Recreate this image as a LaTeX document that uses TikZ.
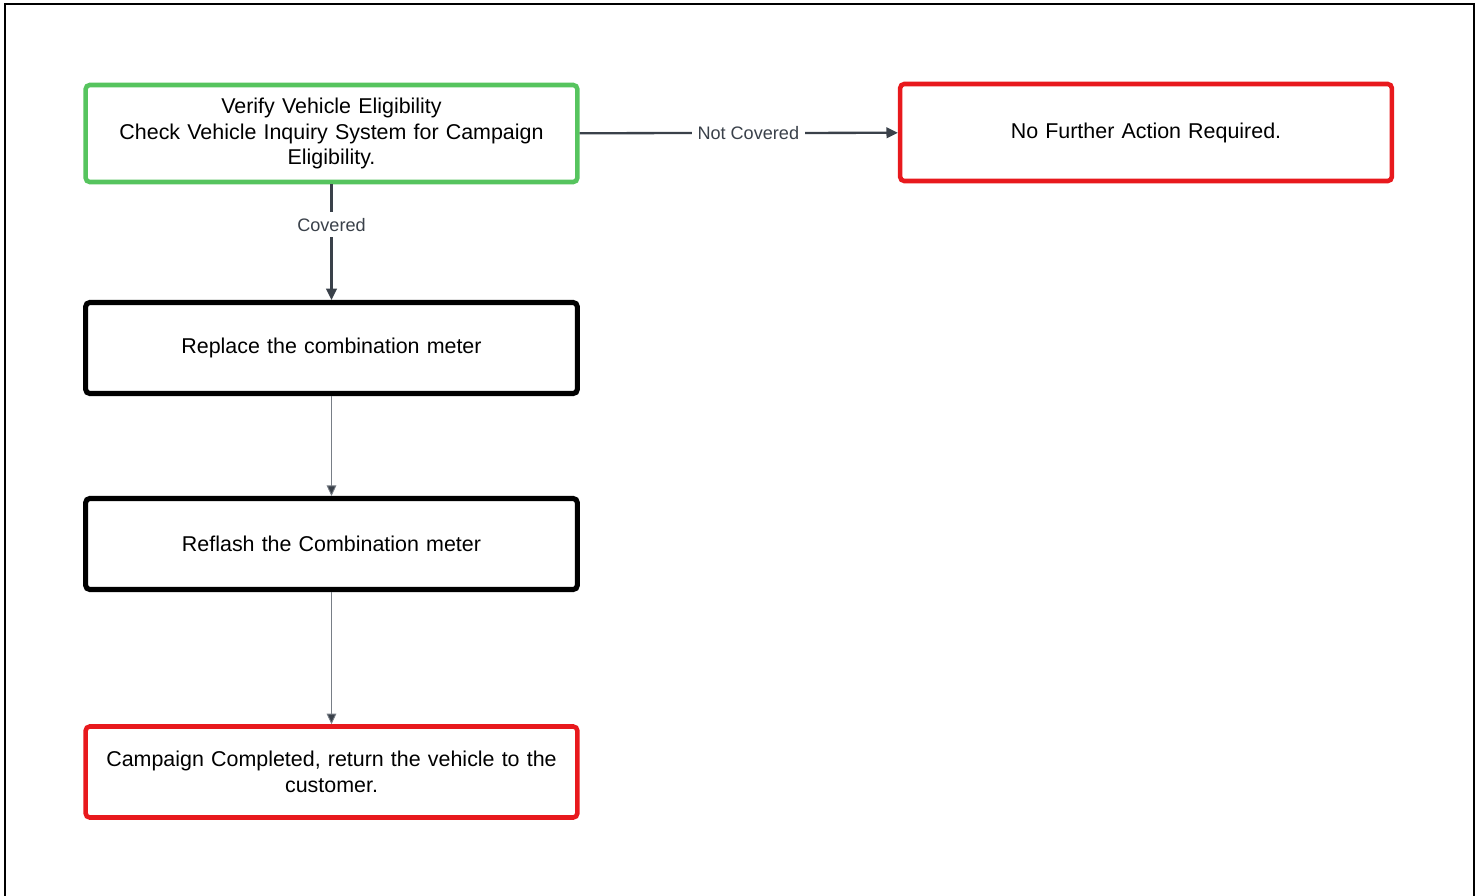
\documentclass[tikz,border=0pt]{standalone}
\usepackage{fontspec}
\setmainfont{Liberation Sans}
\usetikzlibrary{arrows.meta}

\definecolor{okgreen}{RGB}{86,196,94}
\definecolor{stopred}{RGB}{232,25,29}
\definecolor{flowgray}{RGB}{58,65,74}
\definecolor{thingray}{RGB}{120,126,134}

\tikzset{
  box/.style={rectangle, draw, rounded corners=2.3pt, line width=2.6pt,
    minimum width=9.78cm, minimum height=1.82cm, align=center,
    text width=9.6cm, font=\fontsize{12.2}{14.75}\selectfont},
  greenbox/.style={box, draw=okgreen, minimum height=1.94cm},
  redbox/.style={box, draw=stopred},
  blackbox/.style={box, draw=black, line width=2.9pt},
  flow/.style={-{Triangle[length=6.5pt,width=6pt]}, draw=flowgray, line width=1.3pt},
  thinflow/.style={-{Triangle[length=6pt,width=5.5pt,fill=flowgray]}, draw=thingray, line width=0.5pt},
  lbl/.style={fill=white, text=flowgray, inner sep=3.3pt, font=\fontsize{10.3}{12}\selectfont}
}

\begin{document}
\begin{tikzpicture}[x=0.02cm, y=-0.02cm]

    \useasboundingbox (0,0) rectangle (1478,896);
    \draw[line width=1.1pt] (5,896) -- (5,4) -- (1474,4) -- (1474,896);

    \node[greenbox] (verify) at (331.5,133.5) {Verify Vehicle Eligibility\\
      Check Vehicle Inquiry System for Campaign\\ Eligibility.};

    \node[redbox, minimum height=1.94cm] (nofurther) at (1146,132.5) {No Further Action Required.};

    \node[blackbox] (replace) at (331.5,348) {Replace the combination meter};

    \node[blackbox] (reflash) at (331.5,544) {Reflash the Combination meter};

    \node[redbox] (done) at (331.5,772) {Campaign Completed, return the vehicle to the\\ customer.};

    \path
    %decision paths
    (verify) edge [flow] node [lbl, pos=0.35] {Covered} (replace)
    (verify) edge [flow] node [lbl, pos=0.53] {Not Covered} (nofurther)
    %steps
    (replace) edge [thinflow] (reflash)
    (reflash) edge [thinflow] (done);

\end{tikzpicture}
\end{document}
